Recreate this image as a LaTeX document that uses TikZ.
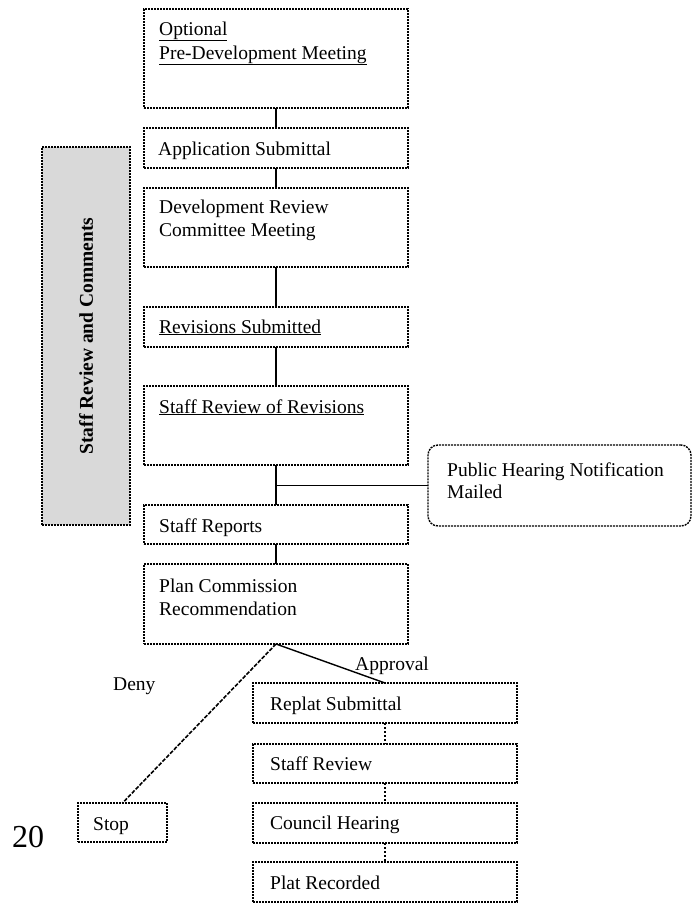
\documentclass[tikz,border=0pt]{standalone}
\usepackage{fontspec}
\setmainfont{Liberation Serif}
\begin{document}
\begin{tikzpicture}[x=1pt,y=-1pt,
  box/.style={draw, dash pattern=on 2pt off 1pt, line width=1.4pt, rectangle, inner sep=0pt, outer sep=0pt, anchor=north west},
  lbl/.style={anchor=base west, inner sep=0pt, font=\fontsize{19.5}{22}\selectfont},
  conn/.style={line width=1.4pt},
  dconn/.style={dash pattern=on 2pt off 2pt, line width=2.2pt}]
\useasboundingbox (0,0) rectangle (696,903);
% shaded side box
\node[box, fill=black!15, minimum width=88pt, minimum height=378pt] (side) at (42,147) {};
\node[rotate=90, inner sep=0pt, font=\fontsize{19.5}{22}\selectfont\bfseries] (sidet) at (side.center) {Staff Review and Comments};
% main column boxes
\node[box, minimum width=264pt, minimum height=99pt] (b1) at (144,9) {};
\node[box, minimum width=264pt, minimum height=40pt] (b2) at (144,128) {};
\node[box, minimum width=264pt, minimum height=79pt] (b3) at (144,188) {};
\node[box, minimum width=264pt, minimum height=40pt] (b4) at (144,307) {};
\node[box, minimum width=264pt, minimum height=79pt] (b5) at (144,386) {};
\node[box, minimum width=264pt, minimum height=39pt] (b6) at (144,505) {};
\node[box, minimum width=264pt, minimum height=80pt] (b7) at (144,564) {};
\node[box, rounded corners=10pt, minimum width=263pt, minimum height=81pt] (ph) at (428,445) {};
% lower boxes
\node[box, minimum width=264pt, minimum height=40pt] (r1) at (253,683) {};
\node[box, minimum width=264pt, minimum height=39pt] (r2) at (253,744) {};
\node[box, minimum width=264pt, minimum height=40pt] (r3) at (253,803) {};
\node[box, minimum width=264pt, minimum height=40pt] (r4) at (253,862) {};
\node[box, minimum width=89pt, minimum height=39pt] (stop) at (78,803) {};
% texts
\node[lbl] (t1a) at (159,35) {\underline{Optional}};
\node[lbl] (t1b) at (159,59) {\underline{Pre-Development Meeting}};
\node[lbl] (t2) at (158,155) {Application Submittal};
\node[lbl] (t3a) at (159,213) {Development Review};
\node[lbl] (t3b) at (159,236) {Committee Meeting};
\node[lbl] (t4) at (159,333) {\underline{Revisions Submitted}};
\node[lbl] (t5) at (159,413) {\underline{Staff Review of Revisions}};
\node[lbl] (t6) at (159,532) {Staff Reports};
\node[lbl] (t7a) at (159,592) {Plan Commission};
\node[lbl] (t7b) at (159,615) {Recommendation};
\node[lbl] (tpa) at (447,476) {Public Hearing Notification};
\node[lbl] (tpb) at (447,498) {Mailed};
\node[lbl] (tr1) at (270,710) {Replat Submittal};
\node[lbl] (tr2) at (270,770) {Staff Review};
\node[lbl] (tr3) at (270,829) {Council Hearing};
\node[lbl] (tr4) at (270,889) {Plat Recorded};
\node[lbl] (tstop) at (93,830) {Stop};
\node[lbl] (deny) at (113,690) {Deny};
\node[lbl] (appr) at (355,670) {Approval};
\node[anchor=base west, inner sep=0pt, font=\fontsize{32}{36}\selectfont] (pg) at (12,847) {20};
% connectors
\draw[conn] (b1.south) -- (b2.north);
\draw[conn] (b2.south) -- (b3.north);
\draw[conn] (b3.south) -- (b4.north);
\draw[conn] (b4.south) -- (b5.north);
\draw[conn] (b5.south) -- (b6.north);
\coordinate (br) at (ph.west -| b5.south);
\draw[conn] (br) -- (ph.west);
\draw[conn] (b6.south) -- (b7.north);
\draw[dash pattern=on 4pt off 1.5pt, line width=1.6pt] (b7.south) -- (stop.north);
\draw[conn] (b7.south) -- (r1.north);
\draw[dconn] (r1.south) -- (r2.north);
\draw[dconn] (r2.south) -- (r3.north);
\draw[dconn] (r3.south) -- (r4.north);
\end{tikzpicture}
\end{document}
